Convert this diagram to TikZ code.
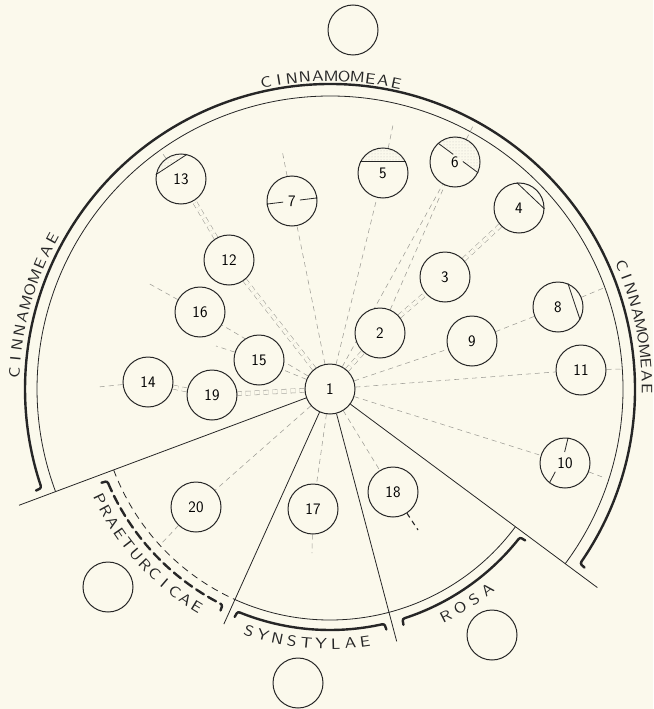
\documentclass[tikz,border=0pt]{standalone}
\usepackage{fontspec}
\newfontfamily\lettering{lmsans10-regular}[Extension=.otf,FakeStretch=1.15]
\usetikzlibrary{calc,patterns,backgrounds}

\definecolor{paper}{HTML}{FBF9EC}
\definecolor{ink}{HTML}{262626}
\definecolor{linkgrey}{HTML}{9E9D96}

% letters set one by one round the centre O
\newcommand\arctext[6]{%
  \foreach \ch [count=\k from 0] in {#6}
    \node[letter,rotate={#3+\k*(#4)+(#5)}] (#1\k) at ($(O)+({#3+\k*(#4)}:#2)$) {\ch};}
% arc with its two ends turned outwards
\newcommand\bracket[4]{%
  \pgfmathsetmacro\bsa{#1+180}\pgfmathsetmacro\bsb{#1-90}%
  \pgfmathsetmacro\bea{#2+90}\pgfmathsetmacro\beb{#2+180}%
  \draw[brace] ($(O)+({#1}:{#3+6})+({#1-90}:3)$) to[out=\bsa,in=\bsb] ($(O)+({#1}:#3)$);
  \draw[brace,#4] ($(O)+({#1}:#3)$) arc[start angle=#1,end angle=#2,radius=#3];
  \draw[brace] ($(O)+({#2}:#3)$) to[out=\bea,in=\beb] ($(O)+({#2}:{#3+6})+({#2+90}:3)$);}

\begin{document}
\begin{tikzpicture}[x=1pt,y=1pt,
  taxon/.style={circle,draw=ink,line width=1pt,minimum size=50pt,inner sep=0pt,fill=paper,
    font=\sffamily\fontsize{16}{16}\selectfont},
  letter/.style={inner sep=0pt,text=ink,font=\lettering\fontsize{15}{15}\selectfont},
  link/.style={draw=linkgrey,line width=0.55pt,dash pattern=on 5pt off 4pt},
  twin/.style={link,double=paper,double distance=3.5pt},
  ray/.style={draw=ink,line width=0.8pt},
  thinarc/.style={draw=ink,line width=0.8pt},
  brace/.style={draw=ink,line width=2.4pt,line cap=round},
  chord/.style={draw=ink,line width=0.8pt},
  stipple/.style={pattern=dots,pattern color=linkgrey!60}]
\useasboundingbox (0,0) rectangle (653,-709);

% taxa
\node[taxon] (n1) at (330,-389) {1};
\node[taxon] (n2) at (380,-333) {2};
\node[taxon] (n3) at (445,-277) {3};
\node[taxon] (n4) at (519,-208) {4};
\node[taxon] (n5) at (383,-173) {5};
\node[taxon] (n6) at (455,-162) {6};
\node[taxon] (n7) at (292,-201) {7};
\node[taxon] (n8) at (558,-307) {8};
\node[taxon] (n9) at (472,-341) {9};
\node[taxon] (n10) at (565,-463) {10};
\node[taxon] (n11) at (581,-370) {11};
\node[taxon] (n12) at (229,-260) {12};
\node[taxon] (n13) at (181,-179) {13};
\node[taxon] (n14) at (148,-382) {14};
\node[taxon] (n15) at (259,-360) {15};
\node[taxon] (n16) at (200,-312) {16};
\node[taxon] (n17) at (313,-509) {17};
\node[taxon] (n18) at (393,-492) {18};
\node[taxon] (n19) at (212,-395) {19};
\node[taxon] (n20) at (196,-507) {20};
\node[taxon] (ea) at (353,-30) {};
\node[taxon] (eb) at (108,-587) {};
\node[taxon] (ec) at (298,-683) {};
\node[taxon] (ed) at (492,-635) {};

\coordinate (O) at (n1);
\coordinate (r1) at ($(O)+(200.5:332)$);
\coordinate (r2) at ($(O)+(245.7:258)$);
\coordinate (r3) at ($(O)+(284.8:261)$);
\coordinate (r4) at ($(O)+(323.4:333)$);
\coordinate (s5) at (393,-125);
\coordinate (s6) at (473,-126);
\coordinate (s7) at (282,-150);
\coordinate (s13) at (160,-150);
\coordinate (s16) at (148,-283);
\coordinate (s15) at (216,-346);
\coordinate (s14) at (98,-387);
\coordinate (s20) at (160,-545);
\coordinate (s17) at (312,-553);
\coordinate (s18) at (418,-530);
\coordinate (s8) at (606,-287);
\coordinate (s11) at (622,-369);
\coordinate (s10) at (605,-478);

\begin{pgfonlayer}{background}
\fill[paper] (0,0) rectangle (653,-709);
% arcs and rays
\draw[thinarc] ($(O)+(-36.6:293)$) arc[start angle=-36.6,end angle=200.5,radius=293];
\draw[thinarc,dash pattern=on 7pt off 5pt] ($(O)+(200.5:231)$) arc[start angle=200.5,end angle=245.7,radius=231];
\draw[thinarc] ($(O)+(245.7:231)$) arc[start angle=245.7,end angle=323.4,radius=231];
\draw[ray] (n1) -- (r1);
\draw[ray] (n1) -- (r2);
\draw[ray] (n1) -- (r3);
\draw[ray] (n1) -- (r4);
% links
\draw[link] (n1) -- (n5) -- (s5);
\draw[link] (n1) -- (n6) -- (s6);
\draw[link] (n2) -- (n6);
\draw[link] (n1) -- (n7) -- (s7);
\draw[link] (n1) -- (n16) -- (s16);
\draw[link] (n1) -- (n15) -- (s15);
\draw[link] (n13) -- (s13);
\draw[link] (n14) -- (s14);
\draw[link] (n1) -- (n20) -- (s20);
\draw[link] (n1) -- (n17) -- (s17);
\draw[link] (n1) -- (n18);
\draw[link,draw=ink,line width=1.1pt] (n18) -- (s18);
\draw[link] (n1) -- (n9) -- (n8) -- (s8);
\draw[link] (n1) -- (n11) -- (s11);
\draw[link] (n1) -- (n10) -- (s10);
\draw[twin] (n1) -- (n2);
\draw[twin] (n2) -- (n3);
\draw[twin] (n3) -- (n4);
\draw[twin] (n1) -- (n12);
\draw[twin] (n12) -- (n13);
\draw[twin] (n1) -- (n19);
\draw[twin] (n19) -- (n14);
\end{pgfonlayer}

% marks inside the circles
\fill[stipple] (n13.76) arc[start angle=76,end angle=170,radius=25] -- cycle;
\draw[chord] (n13.170) -- (n13.76);
\fill[stipple] (n5.26) arc[start angle=26,end angle=154,radius=25] -- cycle;
\draw[chord] (n5.26) -- (n5.154);
\fill[stipple] (n6.335) arc[start angle=-25,end angle=132,radius=25] -- cycle;
\draw[chord] (n6.132) -- ($(n6.132)!0.38!(n6.335)$) ($(n6.132)!0.62!(n6.335)$) -- (n6.335);
\draw[chord] (n7.187) -- ($(n7)+(187:9)$) ($(n7)+(7:8)$) -- (n7.7);
\draw[chord] (n4.95) -- (n4.358);
\draw[chord] (n8.67) -- (n8.330);
\draw[chord] (n10.83) -- ($(n10)+(92:11)$) ($(n10)+(222:13)$) -- (n10.232);

% brackets
\bracket{-34.5}{198.5}{305}{}
\bracket{203}{243}{241}{dash pattern=on 9pt off 5pt}
\bracket{248}{282.5}{241}{}
\bracket{288}{321.5}{241}{}

% names of the sections
\arctext{ct}{313}{101.8}{-2.4}{-90}{C,I,N,N,A,M,O,M,E,A,E}
\arctext{cl}{316}{177}{-2.55}{-90}{C,I,N,N,A,M,O,M,E,A,E}
\arctext{cr}{317}{23}{-2.3}{-90}{C,I,N,N,A,M,O,M,E,A,E}
\arctext{pt}{255}{205.5}{3}{90}{P,R,A,E,T,U,R,C,I,C,A,E}
\arctext{sy}{255}{251.5}{3.3}{90}{S,Y,N,S,T,Y,L,A,E}
\arctext{ro}{255}{297}{3.7}{90}{R,O,S,A}
\end{tikzpicture}
\end{document}
